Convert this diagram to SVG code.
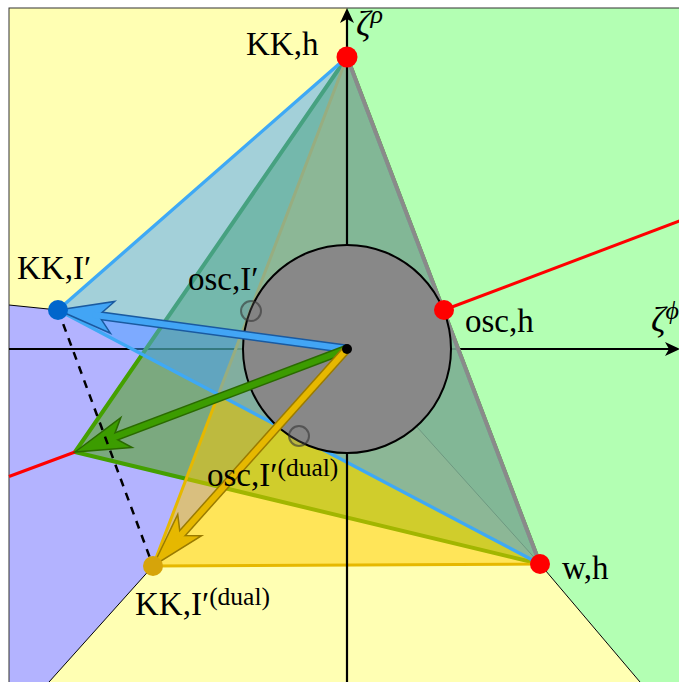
<svg xmlns="http://www.w3.org/2000/svg" width="679" height="682" viewBox="0 0 679 682">
<defs>
<style>
.lbl{font-family:'Liberation Serif','Times New Roman',serif;font-size:33px;fill:#000}
.ital{font-family:'Liberation Serif','Times New Roman',serif;font-style:italic;fill:#000}
.fan{stroke:none}
.fanline{stroke:#000;stroke-width:1;fill:none}
.axis{stroke:#000;stroke-width:2.2;fill:none}
.tri{fill-opacity:0.5;stroke-linejoin:round}
.dot{stroke:none}
</style>
</defs>
<rect x="0" y="0" width="679" height="682" fill="#ffffff"/>
<g id="background">
<polygon class="fan" fill="#ffffb3" points="347,349 347,8 9,8 9,305 58,310"/>
<polygon class="fan" fill="#b3ffb3" points="347,349 347,8 700,8 700,682 640,682 540,564"/>
<polygon class="fan" fill="#ffffb3" points="347,349 540,564 640,682 49,682 153,566"/>
<polygon class="fan" fill="#b3b3ff" points="347,349 153,566 49,682 9,682 9,305 58,310"/>
<polyline class="fanline" points="9,305 58,310 347,349"/>
<polyline class="fanline" points="347,349 153,566 49,682"/>
<polyline class="fanline" points="347,349 540,564 640,682"/>
<rect x="9" y="8" width="700" height="700" fill="none" stroke="#333" stroke-width="1"/>
</g>
<g id="axis-h">
<line class="axis" x1="9" y1="349" x2="672" y2="349"/>
<path d="M680,349 L665,342 L669,349 L665,356 Z" fill="#000"/>
</g>
<g id="triangles">
<polygon class="tri" fill="#44a000" stroke="#44a000" stroke-width="4" points="347,57 75,452 540,564"/>
<polygon class="tri" fill="#ffcc00" stroke="#e6b800" stroke-width="3" points="347,57 153,566 540,564"/>
<polygon class="tri" fill="#47a1ff" stroke="#3fa9f5" stroke-width="3.3" points="347,57 58,310 540,564"/>
<line x1="347" y1="57" x2="540" y2="564" stroke="#8a8a8a" stroke-width="4"/>
</g>
<g id="axis-v">
<line class="axis" x1="347" y1="682" x2="347" y2="16"/>
<path d="M347,8 L340,23 L347,19 L354,23 Z" fill="#000"/>
</g>
<g id="disc">
<circle cx="347" cy="349" r="104" fill="#888888" stroke="#000" stroke-width="2"/>
</g>
<g id="connectors">
<line x1="444" y1="310" x2="690" y2="217" stroke="#ff0000" stroke-width="3"/>
<line x1="9" y1="476.5" x2="75" y2="452" stroke="#ff0000" stroke-width="3"/>
<!-- blue arrow -->
<line x1="347" y1="349" x2="98.63" y2="315.48" stroke="#1a5aa0" stroke-width="9"/>
<polygon points="58,310 114.65,301.49 98.63,315.48 110.37,333.21" fill="#42a5f5" stroke="#1a5aa0" stroke-width="1.5"/>
<line x1="347" y1="349" x2="92.69" y2="314.68" stroke="#42a5f5" stroke-width="6"/>
<!-- green arrow -->
<line x1="347" y1="349" x2="113.34" y2="437.48" stroke="#2a6a00" stroke-width="9"/>
<polygon points="75,452 120.77,417.56 113.34,437.48 132.11,447.48" fill="#3c9c00" stroke="#2a6a00" stroke-width="1.5"/>
<line x1="347" y1="349" x2="107.73" y2="439.61" stroke="#3c9c00" stroke-width="6"/>
<!-- gold arrow -->
<line x1="347" y1="349" x2="180.33" y2="535.43" stroke="#9a7b00" stroke-width="9"/>
<polygon points="153,566 177.73,514.34 180.33,535.43 201.59,535.66" fill="#e6b800" stroke="#9a7b00" stroke-width="1.5"/>
<line x1="347" y1="349" x2="176.33" y2="539.91" stroke="#e6b800" stroke-width="6"/>
<line x1="58" y1="310" x2="153" y2="566" stroke="#000" stroke-width="2.5" stroke-dasharray="8,7"/>
</g>
<g id="osc-Iprime">
<circle cx="251" cy="311" r="10" fill="#777" fill-opacity="0.25" stroke="#333" stroke-opacity="0.6" stroke-width="2"/>
<text class="lbl" x="188" y="290">osc,I′</text>
</g>
<g id="osc-Iprime-dual">
<circle cx="299" cy="436" r="10" fill="#777" fill-opacity="0.25" stroke="#333" stroke-opacity="0.6" stroke-width="2"/>
<text class="lbl" x="207" y="486">osc,I′<tspan font-family="'Liberation Serif','Times New Roman',serif" font-size="25.5" dy="-10">(dual)</tspan></text>
</g>
<g id="origin">
<circle class="dot" cx="347" cy="349" r="5" fill="#000"/>
</g>
<g id="KK-h">
<circle class="dot" cx="347" cy="57" r="10.5" fill="#ff0000"/>
<text class="lbl" x="246" y="55">KK,h</text>
</g>
<g id="osc-h">
<circle class="dot" cx="444" cy="310" r="10" fill="#ff0000"/>
<text class="lbl" x="465" y="332">osc,h</text>
</g>
<g id="w-h">
<circle class="dot" cx="540" cy="564" r="10" fill="#ff0000"/>
<text class="lbl" x="562" y="579">w,h</text>
</g>
<g id="KK-Iprime">
<circle class="dot" cx="58" cy="310" r="10" fill="#0066cc"/>
<text class="lbl" x="17" y="279">KK,I′</text>
</g>
<g id="KK-Iprime-dual">
<circle class="dot" cx="153" cy="566" r="10" fill="#d6a40a"/>
<text class="lbl" x="135" y="615">KK,I′<tspan font-family="'Liberation Serif','Times New Roman',serif" font-size="25.5" dy="-10">(dual)</tspan></text>
</g>
<g id="axis-labels">
<text class="ital" x="356" y="36" font-size="36">ζ<tspan font-size="26" dy="-13">ρ</tspan></text>
<text class="ital" x="651" y="332" font-size="36">ζ<tspan font-size="26" dy="-13">ϕ</tspan></text>
</g>
</svg>
